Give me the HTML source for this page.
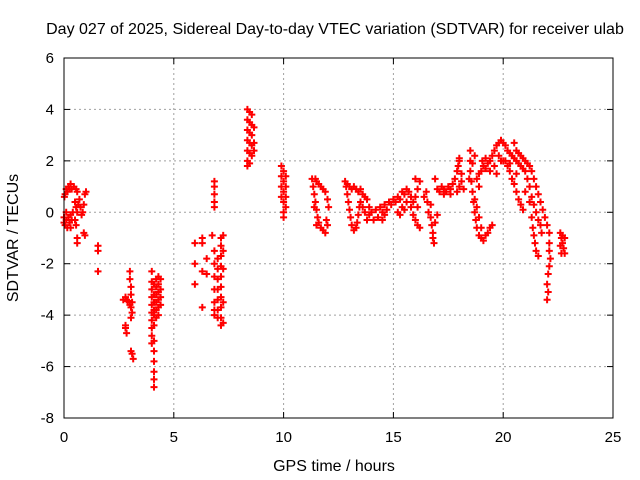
<!DOCTYPE html>
<html><head><meta charset="utf-8"><style>
body{margin:0;background:#fff;}
svg{display:block;font-family:"Liberation Sans",sans-serif;}
</style></head><body>
<svg id="chart" width="640" height="480" xmlns="http://www.w3.org/2000/svg">
<rect width="640" height="480" fill="#fff"/>
<text x="335" y="34" font-size="16" text-anchor="middle">Day 027 of 2025, Sidereal Day-to-day VTEC variation (SDTVAR) for receiver ulab</text>
<text x="334" y="471" font-size="16" text-anchor="middle">GPS time / hours</text>
<text x="18" y="238" font-size="16" text-anchor="middle" transform="rotate(-90 18 238)">SDTVAR / TECUs</text>
<g id="grid"></g><g id="axes"></g><g id="marks"></g>
<rect x="64" y="58" width="549" height="360" fill="none" stroke="#000" stroke-width="1"/>
</svg>
<script>
const xTicks=[0,5,10,15,20,25];
const yTicks=[6,4,2,0,-2,-4,-6,-8];
const xTickLabels=["0","5","10","15","20","25"];
const yTickLabels=["6","4","2","0","-2","-4","-6","-8"];
const early=[[0.0,-0.4],[0.05,-0.5],[0.1,-0.3],[0.15,-0.6],[0.2,-0.2],[0.25,-0.4],[0.3,-0.1],[0.35,-0.3],[0.4,0.0],[0.05,0.7],[0.1,0.9],[0.15,0.8],[0.2,1.0],[0.25,0.9],[0.3,1.1],[0.35,0.9],[0.45,1.0],[0.55,0.9],[0.6,0.8],[0.5,0.4],[0.55,0.2],[0.6,0.0],[0.65,0.3],[0.7,0.5],[0.75,0.2],[0.8,-0.1],[0.5,-0.3],[0.55,-0.5],[0.6,-1.0],[0.6,-1.2],[0.85,0.0],[0.9,0.3],[0.95,0.7],[1.0,0.8],[0.9,-0.8],[0.95,-0.9],[0.0,-0.2],[0.02,0.6],[1.55,-1.3],[1.55,-1.5],[1.55,-2.3],[0.3,-0.6],[0.1,0.0]];
const pass3=[[2.7,-3.4],[2.8,-3.3],[2.85,-3.4],[2.9,-3.45],[3.0,-2.3],[3.0,-2.6],[3.05,-2.9],[3.05,-3.2],[3.1,-3.5],[3.05,-3.7],[3.1,-3.9],[3.05,-4.1],[2.8,-4.5],[2.85,-4.7],[2.8,-4.4],[3.05,-5.4],[3.1,-5.5],[3.15,-5.7],[3.0,-3.6]];
const pass4=[[4.0,-2.3],[4.0,-2.7],[4.0,-3.0],[4.0,-3.3],[4.0,-3.6],[4.0,-3.9],[4.0,-4.2],[4.0,-4.5],[4.0,-4.8],[4.0,-5.1],[4.1,-2.8],[4.1,-3.2],[4.1,-3.5],[4.1,-3.8],[4.1,-4.0],[4.1,-4.4],[4.1,-5.0],[4.1,-5.4],[4.1,-5.8],[4.1,-6.2],[4.1,-6.5],[4.1,-6.8],[4.2,-2.6],[4.2,-2.9],[4.2,-3.2],[4.2,-3.5],[4.2,-3.8],[4.2,-4.1],[4.3,-2.5],[4.3,-2.8],[4.3,-3.1],[4.3,-3.4],[4.3,-3.7],[4.3,-4.0],[4.4,-2.6],[4.4,-3.0],[4.4,-3.3],[4.4,-3.6]];
const pass7=[[5.96,-1.2],[6.3,-1.0],[6.3,-1.2],[5.96,-2.0],[6.3,-2.3],[5.96,-2.8],[6.3,-3.7],[6.5,-1.8],[6.75,-0.9],[6.5,-2.4],[6.85,1.2],[6.85,1.0],[6.85,0.7],[6.85,0.4],[6.85,0.2],[6.85,-1.5],[6.85,-2.0],[6.85,-2.5],[6.85,-3.0],[6.85,-3.5],[6.85,-3.8],[6.85,-4.0],[7.0,-1.8],[7.0,-2.2],[7.0,-2.6],[7.0,-3.0],[7.0,-3.4],[7.0,-3.8],[7.0,-4.1],[7.15,-1.0],[7.15,-1.3],[7.15,-1.7],[7.15,-2.1],[7.15,-2.5],[7.15,-2.9],[7.15,-3.3],[7.15,-3.7],[7.15,-4.1],[7.15,-4.4],[7.25,-0.9],[7.25,-1.5],[7.25,-2.2],[7.25,-3.5],[7.25,-4.3]];
const pass10=[[8.35,4.0],[8.35,3.6],[8.35,3.2],[8.35,2.8],[8.35,2.4],[8.35,2.0],[8.35,1.8],[8.45,3.9],[8.45,3.5],[8.45,3.1],[8.45,2.7],[8.45,2.3],[8.45,1.9],[8.55,3.8],[8.55,3.4],[8.55,3.0],[8.55,2.6],[8.55,2.2],[8.65,3.3],[8.65,2.7],[8.65,2.4],[9.9,1.8],[9.9,1.4],[9.9,1.0],[9.9,0.6],[10.0,1.6],[10.0,1.2],[10.0,0.8],[10.0,0.4],[10.0,0.0],[10.0,-0.2],[10.1,1.4],[10.1,1.0],[10.1,0.6],[10.1,0.2]];
const midday=[[11.3,1.3],[11.35,1.0],[11.4,0.7],[11.45,0.4],[11.5,0.1],[11.55,-0.2],[11.6,-0.4],[11.7,-0.6],[11.8,-0.7],[11.9,-0.8],[11.5,1.2],[11.6,1.1],[11.7,1.0],[11.8,0.9],[11.9,0.8],[12.0,0.5],[12.05,0.2],[11.95,-0.3],[12.0,-0.5],[11.45,1.3],[11.4,0.2],[11.5,-0.5],
[12.8,1.2],[12.85,1.0],[12.9,0.7],[12.95,0.4],[13.0,0.1],[13.05,-0.2],[13.1,-0.5],[13.2,-0.7],[13.3,-0.6],[13.35,-0.4],[13.4,-0.1],[13.45,0.2],[13.5,0.4],[12.9,1.1],[13.0,1.0],[13.1,0.9],[13.2,1.0],[13.3,0.9],[13.4,0.8],[13.5,0.9],[13.6,0.7],[13.7,0.6],[13.8,0.5],[13.9,0.2],[13.7,0.0],[13.8,-0.3],[13.9,-0.1],[13.6,0.2],
[14.0,0.0],[14.1,-0.3],[14.2,0.1],[14.3,-0.2],[14.4,0.2],[14.5,0.0],[14.6,0.3],[14.7,0.1],[14.8,0.4],[14.9,0.3],[15.0,0.5],[15.1,0.4],[15.2,0.6],[15.3,0.5],[15.4,0.8],[15.5,0.7],[15.6,0.9],[15.7,0.8],[15.8,0.6],[15.2,0.0],[15.3,-0.1],[15.4,0.2],[15.5,0.1],[15.6,0.4],[14.5,-0.3],[14.6,-0.1],[15.8,0.2],[15.9,0.4],[16.0,0.6],[16.1,0.9],[16.2,1.2],[16.0,1.3],[15.9,-0.1],[16.0,-0.3],[16.1,-0.5],[16.2,-0.6],[16.1,0.2],
[16.4,0.6],[16.5,0.8],[16.55,0.4],[16.6,0.0],[16.7,-0.2],[16.75,-0.5],[16.8,-0.8],[16.8,-1.0],[16.85,-1.2],[16.7,0.3],[16.9,1.3],[16.9,-0.4],[17.0,-0.1]];
const evening=[[17.0,0.9],[17.1,0.8],[17.2,1.0],[17.3,0.9],[17.4,0.8],[17.5,1.0],[17.6,0.9],[17.7,1.1],[17.8,1.3],[17.9,1.6],[18.0,2.0],[18.1,1.2],[18.2,0.9],[17.9,0.8],[17.3,0.7],[17.6,0.7],[18.0,1.0],[18.1,1.5],[17.95,1.8],[18.0,2.1],
[18.5,2.0],[18.5,1.6],[18.55,1.2],[18.6,0.8],[18.65,0.4],[18.7,0.0],[18.75,-0.3],[18.8,-0.6],[18.9,-0.9],[19.0,-1.0],[19.1,-1.1],[19.2,-0.9],[19.3,-0.8],[19.4,-0.6],[19.5,-0.5],[18.6,1.9],[18.7,2.2],[18.5,2.4],[18.7,0.5],[18.8,0.2],[18.9,-0.2],[19.0,-0.6],[18.45,1.3],
[18.8,1.3],[18.9,1.5],[19.0,1.6],[19.1,1.8],[19.2,1.7],[19.3,1.9],[19.4,2.0],[19.5,2.2],[19.6,2.4],[19.7,2.6],[19.8,2.7],[19.9,2.8],[20.0,2.7],[19.2,2.1],[19.4,1.6],[19.6,1.8],[19.8,2.2],[19.7,1.5],[19.9,2.0],[18.9,1.0],[19.05,2.0],
[20.1,2.6],[20.2,2.4],[20.3,2.3],[20.4,2.2],[20.5,2.1],[20.6,2.0],[20.7,1.9],[20.8,1.8],[20.9,1.7],[21.0,1.6],[21.1,1.3],[21.2,1.0],[21.3,0.6],[21.4,0.3],[21.5,0.0],[21.6,-0.3],[21.7,-0.5],[21.75,-0.8],[20.1,2.0],[20.2,1.8],[20.3,1.6],[20.4,1.3],[20.5,1.1],[20.6,0.8],[20.7,0.5],[20.8,0.3],[20.9,0.1],[20.5,2.7],[20.6,2.4],[20.7,2.3],[20.8,2.2],[20.9,2.1],[21.0,2.0],[21.1,1.9],[21.2,1.8],[21.3,1.6],[21.4,1.3],[21.5,1.0],[21.6,0.7],[21.7,0.4],[21.8,0.1],[21.9,-0.2],[22.0,-0.5],[22.1,-0.8],[22.1,-1.2],[22.1,-1.5],[22.15,-1.8],[22.1,-2.1],[22.05,-2.4],[22.0,-2.8],[22.05,-3.1],[22.0,-3.4],[21.3,-0.2],[21.35,-0.6],[21.4,-0.9],[21.45,-1.2],[21.5,-1.5],[21.6,-1.7],[20.6,1.5],[20.3,1.9],[20.0,2.0],[21.2,0.4],[21.0,0.8],
[22.6,-0.8],[22.65,-1.0],[22.7,-1.2],[22.75,-1.4],[22.8,-1.6],[22.65,-1.6],[22.7,-0.9],[22.8,-1.0],[22.6,-1.3]];

const NS="http://www.w3.org/2000/svg";
const X0=64,X1=613,Y0=418,Y1=58;
function xs(t){return X0+(t-0)/(25-0)*(X1-X0);}
function ys(v){return Y0-(v-(-8))/(6-(-8))*(Y0-Y1);}
function mk(tag,attrs,parent){const e=document.createElementNS(NS,tag);for(const k in attrs)e.setAttribute(k,attrs[k]);parent.appendChild(e);return e;}
const grid=document.getElementById('grid'),axes=document.getElementById('axes'),marks=document.getElementById('marks');
xTicks.forEach((t,i)=>{
  const x=xs(t);
  if(i>0&&i<xTicks.length-1){const g=mk('line',{x1:x,x2:x,y1:Y1,y2:Y0,stroke:'#a0a0a0','stroke-dasharray':'2,3'},grid);
  
  }
  mk('line',{x1:x,x2:x,y1:Y0,y2:Y0-6,stroke:'#000'},axes);
  mk('line',{x1:x,x2:x,y1:Y1,y2:Y1+6,stroke:'#000'},axes);
  const lb=mk('text',{x:x,y:Y0+24,'font-size':15,'text-anchor':'middle'},axes);lb.textContent=xTickLabels[i];
  
  
});
yTicks.forEach((v,i)=>{
  const y=ys(v);
  if(i>0&&i<yTicks.length-1){const g=mk('line',{x1:X0,x2:X1,y1:y,y2:y,stroke:'#a0a0a0','stroke-dasharray':'2,3'},grid);
  
  }
  mk('line',{x1:X0,x2:X0+6,y1:y,y2:y,stroke:'#000'},axes);
  mk('line',{x1:X1,x2:X1-6,y1:y,y2:y,stroke:'#000'},axes);
  const lb=mk('text',{x:X0-10,y:y+5,'font-size':15,'text-anchor':'end'},axes);lb.textContent=yTickLabels[i];
  
  
});
let d='';
[early,pass3,pass4,pass7,pass10,midday,evening].forEach(arr=>arr.forEach(p=>{
  const x=xs(p[0]),y=ys(p[1]);
  d+='M'+(x-3.5).toFixed(1)+' '+y.toFixed(1)+'h7M'+x.toFixed(1)+' '+(y-3.5).toFixed(1)+'v7';
}));
const pts=mk('path',{d:d,stroke:'#ff0000','stroke-width':2,fill:'none'},marks);


</script>
</body></html>
